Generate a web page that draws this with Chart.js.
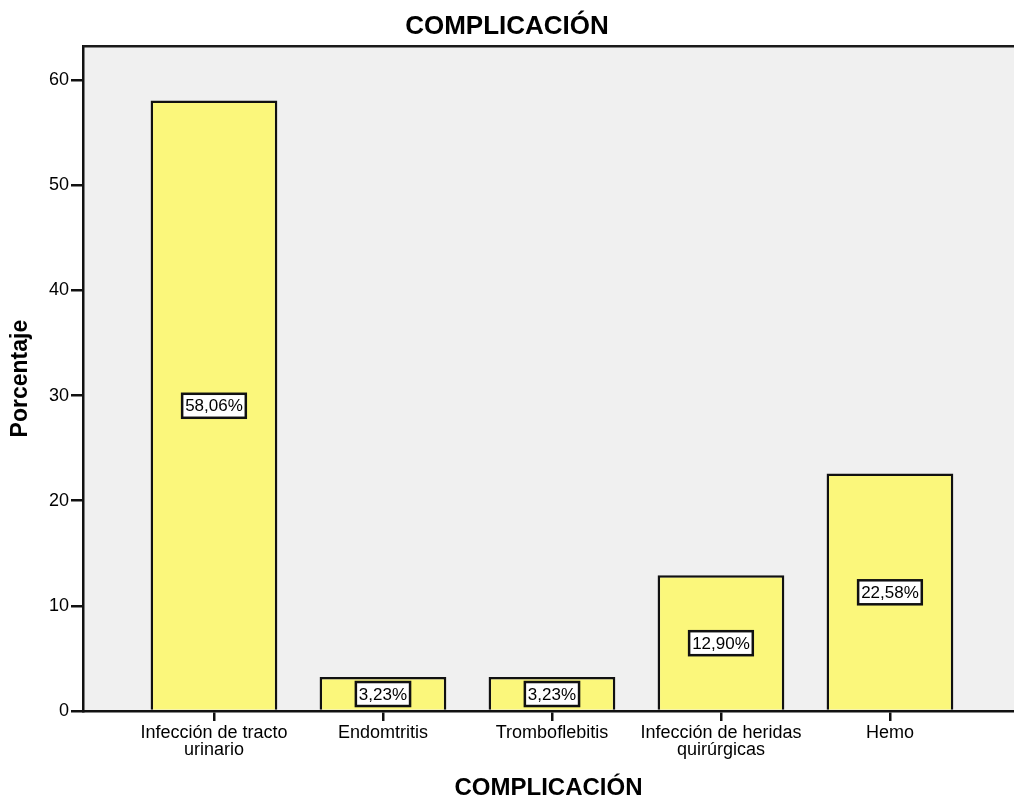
<!DOCTYPE html>
<html>
<head>
<meta charset="utf-8">
<script src="https://cdn.jsdelivr.net/npm/chart.js@4"></script>
<style>
  body { margin: 0; background: #fff; }
  #wrap { width: 1014px; height: 803px; }
</style>
</head>
<body>
<div id="wrap"><canvas id="chart"></canvas></div>
<script>
const categories = [
  ['Infección de tracto', 'urinario'],
  'Endomtritis',
  'Tromboflebitis',
  ['Infección de heridas', 'quirúrgicas'],
  'Hemo'
];
const percentages = [58.06, 3.23, 3.23, 12.90, 22.58];
const valueLabels = ['58,06%', '3,23%', '3,23%', '12,90%', '22,58%'];
const yTicks = [0, 10, 20, 30, 40, 50, 60];

const FONT = "'Liberation Sans', Arial, sans-serif";

// gray plot area plus the top frame line
const plotBackground = {
  id: 'plotBackground',
  beforeDraw(chart) {
    const { ctx, chartArea: a } = chart;
    ctx.save();
    ctx.fillStyle = '#f0f0f0';
    ctx.fillRect(a.left, a.top, a.right - a.left, a.bottom - a.top);
    ctx.restore();
  },
  afterDraw(chart) {
    const { ctx, chartArea: a } = chart;
    ctx.save();
    ctx.strokeStyle = '#1a1a1a';
    ctx.lineWidth = 2.5;
    ctx.beginPath();
    ctx.moveTo(a.left, a.top);
    ctx.lineTo(a.right, a.top);
    ctx.stroke();
    ctx.restore();
  }
};

// boxed percentage labels in the middle of each bar
const boxedLabels = {
  id: 'boxedLabels',
  afterDatasetsDraw(chart) {
    const { ctx } = chart;
    const yScale = chart.scales.y;
    const meta = chart.getDatasetMeta(0);
    ctx.save();
    ctx.font = '17px ' + FONT;
    ctx.textAlign = 'center';
    ctx.textBaseline = 'middle';
    meta.data.forEach((bar, i) => {
      const text = valueLabels[i];
      const cx = bar.x;
      const cy = yScale.getPixelForValue(percentages[i] / 2);
      const w = ctx.measureText(text).width + 6;
      const h = 24;
      ctx.fillStyle = '#fff';
      ctx.fillRect(cx - w / 2, cy - h / 2, w, h);
      ctx.strokeStyle = '#111';
      ctx.lineWidth = 2.5;
      ctx.strokeRect(cx - w / 2, cy - h / 2, w, h);
      ctx.fillStyle = '#000';
      ctx.fillText(text, cx, cy + 1);
    });
    ctx.restore();
  }
};

new Chart(document.getElementById('chart'), {
  type: 'bar',
  data: {
    datasets: [{
      label: 'Porcentaje',
      data: percentages.map((v, i) => ({ x: i, y: v })),
      backgroundColor: '#fbf77b',
      borderColor: '#111',
      borderWidth: 2.5,
      barPercentage: 0.75,
      categoryPercentage: 1
    }]
  },
  options: {
    responsive: true,
    maintainAspectRatio: false,
    animation: false,
    layout: { padding: { left: 0, right: 0, top: 0, bottom: 0 } },
    plugins: {
      legend: { display: false },
      tooltip: { enabled: false },
      title: {
        display: true,
        text: 'COMPLICACIÓN',
        color: '#000',
        font: { family: FONT, size: 26, weight: 'bold' },
        padding: { top: 11, bottom: 4 }
      }
    },
    scales: {
      x: {
        type: 'linear',
        offset: false,
        min: -0.775,
        max: 4.734,
        afterBuildTicks(scale) {
          scale.ticks = categories.map((_, i) => ({ value: i }));
        },
        afterFit(scale) { scale.height = 92; },
        border: { display: true, color: '#111', width: 2.5 },
        grid: { offset: false, drawOnChartArea: false, drawTicks: true, tickLength: 10, color: '#111', lineWidth: 2.5 },
        ticks: {
          color: '#000',
          padding: 3,
          maxRotation: 0,
          autoSkip: false,
          font: { family: FONT, size: 18, lineHeight: 0.95 },
          callback: (v) => categories[v]
        },
        title: {
          display: true,
          text: 'COMPLICACIÓN',
          color: '#000',
          font: { family: FONT, size: 24, weight: 'bold' },
          padding: { top: 0, bottom: 0 }
        }
      },
      y: {
        min: 0,
        max: 63.23,
        afterBuildTicks(scale) {
          scale.ticks = yTicks.map(v => ({ value: v }));
        },
        afterFit(scale) { scale.width = 83; },
        border: { display: true, color: '#111', width: 2.5 },
        grid: { drawOnChartArea: false, drawTicks: true, tickLength: 12, color: '#111', lineWidth: 2.5 },
        ticks: {
          color: '#000',
          padding: 2,
          font: { family: FONT, size: 18 }
        },
        title: {
          display: true,
          text: 'Porcentaje',
          color: '#000',
          font: { family: FONT, size: 23, weight: 'bold' },
          padding: { top: 7, bottom: 0 }
        }
      }
    }
  },
  plugins: [plotBackground, boxedLabels]
});
</script>
</body>
</html>
